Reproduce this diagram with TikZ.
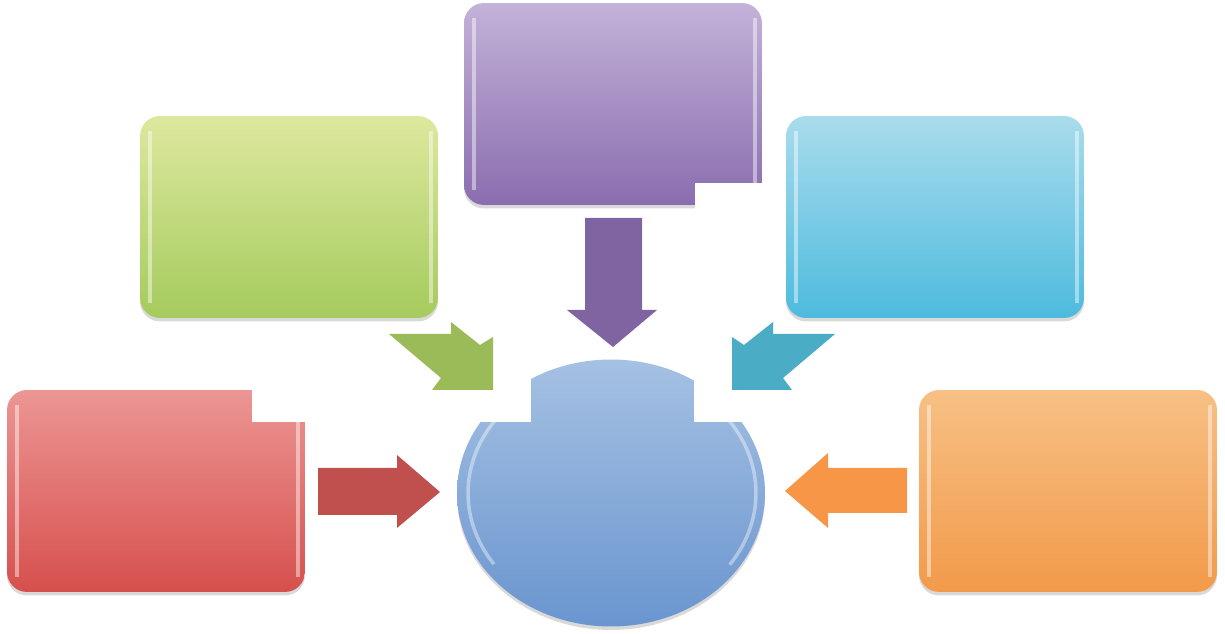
\documentclass[tikz,border=0pt]{standalone}
\usetikzlibrary{shapes.geometric, shadows, calc}
\definecolor{redtop}{HTML}{EC9694}
\definecolor{redbot}{HTML}{D6504D}
\definecolor{redarr}{HTML}{C0504D}
\definecolor{greentop}{HTML}{DDE89E}
\definecolor{greenbot}{HTML}{A5CB5D}
\definecolor{greenarr}{HTML}{9BBB59}
\definecolor{purpletop}{HTML}{C3B2D9}
\definecolor{purplebot}{HTML}{8A6DAE}
\definecolor{purplearr}{HTML}{8064A2}
\definecolor{tealtop}{HTML}{A9DCEC}
\definecolor{tealbot}{HTML}{4DBBDE}
\definecolor{tealarr}{HTML}{4BACC6}
\definecolor{orangetop}{HTML}{F7C085}
\definecolor{orangebot}{HTML}{F29A4A}
\definecolor{orangearr}{HTML}{F79646}
\definecolor{hubtop}{HTML}{A5C1E3}
\definecolor{hubbot}{HTML}{6A95CF}

\begin{document}
\begin{tikzpicture}[x=0.02cm, y=-0.02cm,
  panel/.style={rectangle, rounded corners=0.4cm, minimum width=5.96cm, minimum height=4.04cm,
    inner sep=0pt, drop shadow={shadow xshift=0pt, shadow yshift=-0.07cm, opacity=0.3},
    path picture={
      \draw[white, opacity=0.45, line width=2.4pt]
        ([shift={(0.2cm,-0.3cm)}]path picture bounding box.north west) --
        ([shift={(0.2cm,0.3cm)}]path picture bounding box.south west);
      \draw[white, opacity=0.45, line width=2.4pt]
        ([shift={(-0.14cm,-0.3cm)}]path picture bounding box.north east) --
        ([shift={(-0.14cm,0.3cm)}]path picture bounding box.south east);}},
  hub/.style={ellipse, minimum width=6.16cm, minimum height=5.34cm, inner sep=0pt,
    top color=hubtop, bottom color=hubbot,
    drop shadow={shadow xshift=0pt, shadow yshift=-0.07cm, opacity=0.3},
    path picture={
      \draw[white, opacity=0.4, line width=2pt]
        ($(path picture bounding box.center)+(140:2.86cm and 2.48cm)$)
        arc[start angle=140, end angle=215, x radius=2.86cm, y radius=2.48cm];
      \draw[white, opacity=0.4, line width=2pt]
        ($(path picture bounding box.center)+(-35:2.9cm and 2.5cm)$)
        arc[start angle=-35, end angle=40, x radius=2.9cm, y radius=2.5cm];}},
  notch/.style={fill=white},
  flow/.style={draw=none}]

  \useasboundingbox (0,0) rectangle (1225,634);

  % boxes
  \node[panel, top color=purpletop, bottom color=purplebot] (top) at (613,104) {};
  \node[panel, top color=greentop, bottom color=greenbot] (upleft) at (289,217) {};
  \node[panel, top color=tealtop, bottom color=tealbot] (upright) at (935,217) {};
  \node[panel, top color=redtop, bottom color=redbot] (left) at (156,491) {};
  \node[panel, top color=orangetop, bottom color=orangebot] (right) at (1068,491) {};
  \node[hub] (hub) at (611,493) {};

  % white cut-outs
  \fill[notch] (252,384) rectangle (312,422);
  \fill[notch] (695,183) rectangle (770,212);
  \fill[notch] (445,352) rectangle (531,422);
  \fill[notch] (694,352) rectangle (780,422);

  % block arrows
  \fill[flow, redarr] (318,468) -- (397,468) -- (397,455) -- (440,492) -- (397,528)
    -- (397,515) -- (318,515) -- cycle;
  \fill[flow, orangearr] (907,468) -- (828,468) -- (828,453) -- (785,491) -- (828,528)
    -- (828,513) -- (907,513) -- cycle;
  \fill[flow, purplearr] (585,218) -- (642,218) -- (642,310) -- (657,310) -- (613,347)
    -- (567,310) -- (585,310) -- cycle;
  \fill[flow, greenarr] (451,322) -- (480,345) -- (493,337) -- (493,390) -- (432,390)
    -- (441,378) -- (389,334) -- (451,334) -- cycle;
  \fill[flow, tealarr] (773,322) -- (744,345) -- (732,337) -- (732,390) -- (792,390)
    -- (783,378) -- (835,334) -- (773,334) -- cycle;
\end{tikzpicture}
\end{document}
